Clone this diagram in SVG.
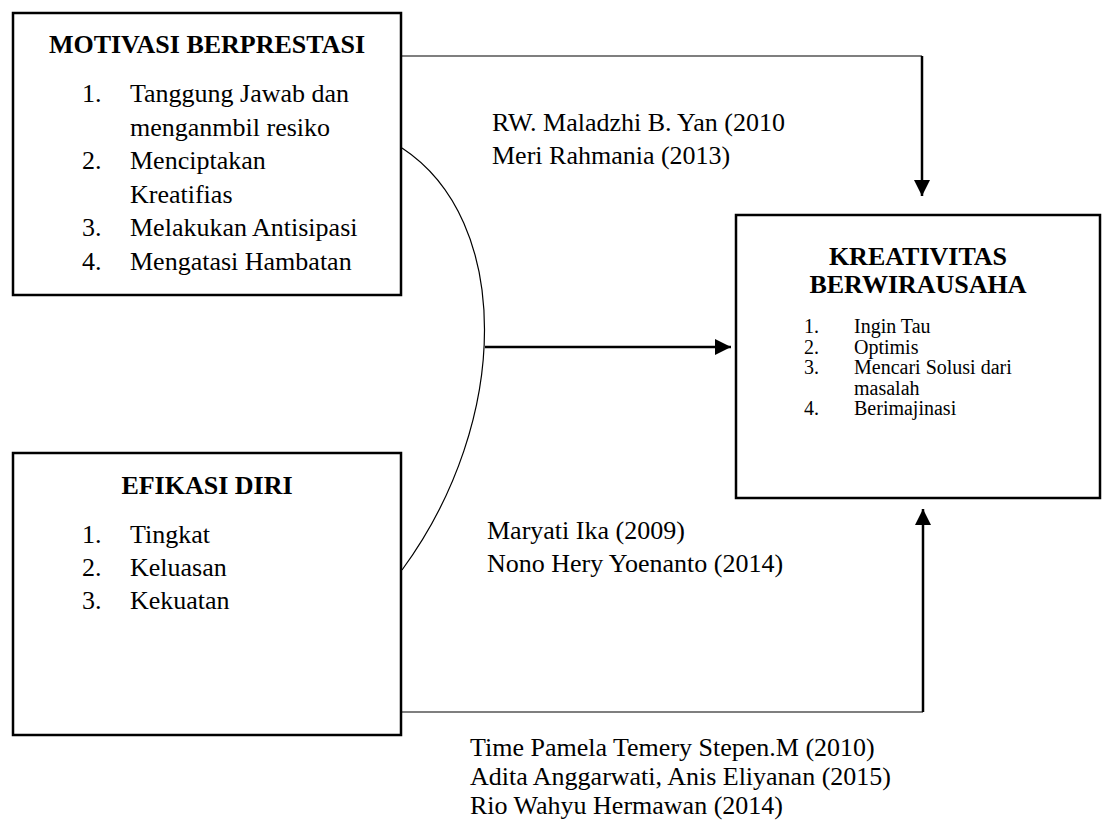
<svg xmlns="http://www.w3.org/2000/svg" width="1110" height="821" viewBox="0 0 1110 821">
<style>
.box{fill:#fff;stroke:#000;stroke-width:2.5}
.t{font-family:"Liberation Serif","Times New Roman",serif;fill:#000}
.h{font-size:26px;font-weight:bold;text-anchor:middle}
.n{font-size:26px}
.s{font-size:20px}
.thin{fill:none;stroke:#000;stroke-width:1.2}
.thick{fill:none;stroke:#000;stroke-width:2.5}
</style>
<defs>
<marker id="ah" markerUnits="userSpaceOnUse" markerWidth="16" markerHeight="16" viewBox="0 0 16 16" refX="16" refY="8" orient="auto">
<path d="M0,0 L16,8 L0,16 Z" fill="#000"/>
</marker>
</defs>
<rect width="1110" height="821" fill="#fff"/>
<g id="connectors">
<path class="thin" d="M401,56 H922"/>
<path class="thick" d="M922,56 V196" marker-end="url(#ah)"/>
<path class="thin" d="M402,148 C512,220 512,420 402,570"/>
<path class="thick" d="M485,347 H731" marker-end="url(#ah)"/>
<path class="thin" d="M401,712 H923"/>
<path class="thick" d="M923,712 V509" marker-end="url(#ah)"/>
</g>
<g id="motivasi">
<rect class="box" x="13" y="13" width="388" height="282"/>
<text class="t h" x="207" y="53">MOTIVASI BERPRESTASI</text>
<g class="t n">
<text x="82" y="102">1.</text><text x="130" y="102">Tanggung Jawab dan</text>
<text x="130" y="136">menganmbil resiko</text>
<text x="82" y="169">2.</text><text x="130" y="169">Menciptakan</text>
<text x="130" y="203">Kreatifias</text>
<text x="82" y="236">3.</text><text x="130" y="236">Melakukan Antisipasi</text>
<text x="82" y="270">4.</text><text x="130" y="270">Mengatasi Hambatan</text>
</g>
</g>
<g id="kreativitas">
<rect class="box" x="736" y="215" width="364" height="283"/>
<text class="t h" x="918" y="265">KREATIVITAS</text>
<text class="t h" x="918" y="293">BERWIRAUSAHA</text>
<g class="t s">
<text x="804" y="333">1.</text><text x="854" y="333">Ingin Tau</text>
<text x="804" y="353.5">2.</text><text x="854" y="353.5">Optimis</text>
<text x="804" y="374">3.</text><text x="854" y="374">Mencari Solusi dari</text>
<text x="854" y="394.5">masalah</text>
<text x="804" y="415">4.</text><text x="854" y="415">Berimajinasi</text>
</g>
</g>
<g id="efikasi">
<rect class="box" x="13" y="453" width="388" height="282"/>
<text class="t h" x="207" y="494">EFIKASI DIRI</text>
<g class="t n">
<text x="82" y="543">1.</text><text x="130" y="543">Tingkat</text>
<text x="82" y="576">2.</text><text x="130" y="576">Keluasan</text>
<text x="82" y="609">3.</text><text x="130" y="609">Kekuatan</text>
</g>
</g>
<g id="labels" class="t n">
<text x="492" y="131">RW. Maladzhi B. Yan (2010</text>
<text x="492" y="164">Meri Rahmania (2013)</text>
<text x="487" y="539">Maryati Ika (2009)</text>
<text x="487" y="572">Nono Hery Yoenanto (2014)</text>
<text x="470" y="756">Time Pamela Temery Stepen.M (2010)</text>
<text x="470" y="785">Adita Anggarwati, Anis Eliyanan (2015)</text>
<text x="470" y="814">Rio Wahyu Hermawan (2014)</text>
</g>
</svg>
